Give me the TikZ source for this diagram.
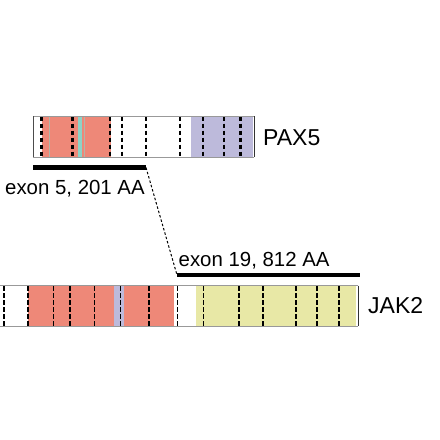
\documentclass[tikz,border=0pt]{standalone}
\usepackage{fontspec}
\setmainfont{Liberation Sans}
\definecolor{dred}{HTML}{EE8878}
\definecolor{dpurple}{HTML}{BDBADB}
\definecolor{dyellow}{HTML}{E8E8A6}
\definecolor{dteal}{HTML}{8DD3C7}
\definecolor{edgegray}{HTML}{999999}
\begin{document}
\begin{tikzpicture}[x=1pt,y=-1pt,
  thickdash/.style={line width=2.3pt,dash pattern=on 4.5pt off 2.5pt},
  thindash/.style={line width=1.2pt,dash pattern=on 4.5pt off 2.5pt},
  exonbar/.style={line width=4.5pt},
  genelabel/.style={font=\fontsize{23}{26}\selectfont,anchor=base west,inner sep=0pt},
  exonlabel/.style={font=\fontsize{20.4}{24}\selectfont,anchor=base west,inner sep=0pt},
  boxnode/.style={draw=none,inner sep=0pt,anchor=north west},
  connector/.style={line width=1pt,dash pattern=on 2.5pt off 2pt}]
\useasboundingbox (0,0) rectangle (440,440);

% ---------- PAX5 ----------
\node[boxnode,minimum width=221pt,minimum height=40.7pt] (pax) at (33,116) {};
\fill[dred] (41.5,116) rectangle (110.7,156.7);
\fill[dteal] (77.5,116) rectangle (81.5,156.7);
\fill[dteal!60!dred] (49.2,116) rectangle (50.4,156.7);
\fill[dteal!60!dred] (83.5,116) rectangle (84.7,156.7);
\fill[dpurple] (190.7,116) rectangle (252.5,156.7);
\foreach \x in {41.5,72.5,110,122,180,203.3,240.5}
  \draw[thickdash] (\x,116.5) -- (\x,156.5);
\foreach \x in {146,224}
  \draw[thindash] (\x,116.5) -- (\x,156.5);
\draw[edgegray,line width=1pt] (pax.north west) -- (pax.north east);
\draw[edgegray,line width=1pt] (pax.south west) -- (pax.south east);
\draw[black!70,line width=1pt] (pax.north west) -- (pax.south west);
\draw[black!80,line width=1pt] (pax.north east) -- (pax.south east);
\node[genelabel] (paxlabel) at (263,145) {PAX5};

\coordinate (paxbarS) at (33,167.5);
\coordinate (paxbarE) at (146,167.5);
\draw[exonbar] (paxbarS) -- (paxbarE);
\node[exonlabel] (paxexon) at (5,194) {exon 5, 201 AA};

% ---------- JAK2 ----------
\node[boxnode,minimum width=360pt,minimum height=40.3pt] (jak) at (-2,285.7) {};
\fill[dred] (27.7,285.7) rectangle (174,326);
\fill[dpurple] (113.5,285.7) rectangle (124,326);
\fill[dyellow] (196,285.7) rectangle (356.3,326);
\foreach \x in {4,27.7,70,149,239,262.7,339}
  \draw[thickdash] (\x,286.2) -- (\x,325.5);
\foreach \x in {53.3,94.7,120.3,177.3,203.3,296,317}
  \draw[thindash] (\x,286.2) -- (\x,325.5);
\draw[edgegray,line width=1pt] (jak.north west) -- (jak.north east);
\draw[edgegray,line width=1pt] (jak.south west) -- (jak.south east);
\draw[black!80,line width=1pt] (jak.north east) -- (jak.south east);
\node[genelabel] (jaklabel) at (368,313.3) {JAK2};

\coordinate (jakbarS) at (177,275);
\coordinate (jakbarE) at (359.5,275);
\draw[exonbar,line width=4pt] (jakbarS) -- (jakbarE);
\node[exonlabel] (jakexon) at (178.5,266) {exon 19, 812 AA};

% ---------- connector ----------
\draw[connector] (paxbarE) -- (jakbarS);
\end{tikzpicture}
\end{document}
